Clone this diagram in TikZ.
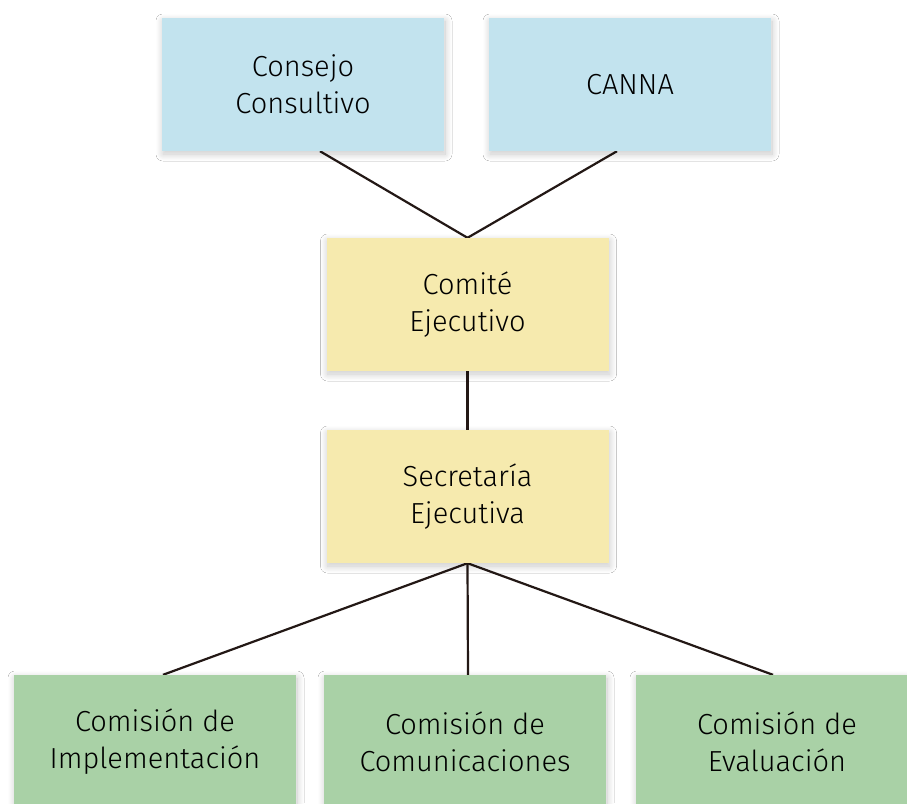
\documentclass[tikz,border=0pt]{standalone}
\usepackage{fontspec}
\setmainfont{Fira Sans Light}
\usetikzlibrary{shadows.blur,backgrounds}
\definecolor{boxblue}{HTML}{C2E3EE}
\definecolor{boxyellow}{HTML}{F6EAAE}
\definecolor{boxgreen}{HTML}{A9D1A6}
\definecolor{linebrown}{HTML}{231815}
\tikzset{
  orgbox/.style={rectangle, minimum width=282pt, minimum height=133pt, inner sep=0pt,
    align=center, font=\fontsize{29}{37}\selectfont, text=black,
    blur shadow={shadow xshift=1pt, shadow yshift=-3pt, shadow blur steps=16, shadow blur radius=7pt, shadow opacity=22}},
  bluebox/.style={orgbox, fill=boxblue},
  yellowbox/.style={orgbox, fill=boxyellow},
  greenbox/.style={orgbox, fill=boxgreen},
  link/.style={draw=linebrown, line width=2.2pt}
}
\begin{document}
\begin{tikzpicture}[x=1pt,y=-1pt]
\useasboundingbox (0,0) rectangle (907,803);
\clip (0,0) rectangle (907,803);
\node[bluebox] (cc) at (303,84.5) {Consejo\\Consultivo};
\node[bluebox] (canna) at (630,84.5) {CANNA};
\node[yellowbox] (ce) at (467.5,304.5) {Comité\\Ejecutivo};
\node[yellowbox] (se) at (467.5,496.5) {Secretaría\\Ejecutiva};
\node[greenbox] (ci) at (155,741.5) {Comisión de\\Implementación};
\node[greenbox] (cm) at (465,741.5) {Comisión de\\Comunicaciones};
\node[greenbox] (ev) at (777,741.5) {Comisión de\\Evaluación};
\begin{scope}[on background layer]
\fill[white] (0,0) rectangle (907,803);
\draw[link] ([xshift=17pt]cc.south) -- (ce.north);
\draw[link] ([xshift=-13pt]canna.south) -- (ce.north);
\draw[link] (ce.south) -- (se.north);
\draw[link] (se.south) -- ([xshift=8pt]ci.north);
\draw[link] (se.south) -- ([xshift=3pt]cm.north);
\draw[link] (se.south) -- ([xshift=-4pt]ev.north);
\end{scope}
\end{tikzpicture}
\end{document}
